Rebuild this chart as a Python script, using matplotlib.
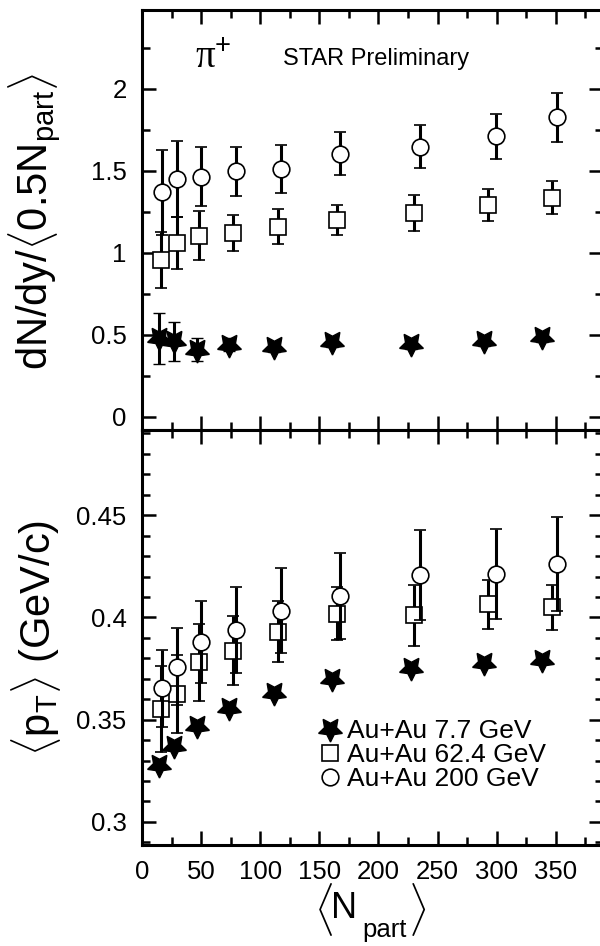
import numpy as np
import matplotlib
matplotlib.use("Agg")
import matplotlib.pyplot as plt
from matplotlib.ticker import FixedLocator, FixedFormatter, MultipleLocator

plt.rcParams['font.family'] = ['Liberation Sans', 'DejaVu Sans']
plt.rcParams['mathtext.fontset'] = 'custom'
plt.rcParams['mathtext.rm'] = 'Liberation Sans'
plt.rcParams['mathtext.it'] = 'Liberation Sans:italic'
plt.rcParams['mathtext.bf'] = 'Liberation Sans:bold'

# ---------------- data ----------------
labels = ['Au+Au 7.7 GeV', 'Au+Au 62.4 GeV', 'Au+Au 200 GeV']

npart_7 = [14.5, 27, 46.5, 73.6, 111.7, 161, 227.6, 289.6, 338.7]
npart_62 = [16, 29.3, 48.5, 76.7, 114.8, 164.7, 230.4, 293, 346.6]
npart_200 = [17.2, 29.5, 49.6, 79.5, 117.3, 167.5, 235, 299.5, 350.8]

dndy_7 = [0.48, 0.46, 0.41, 0.439, 0.425, 0.455, 0.445, 0.465, 0.484]
dndy_7_err = [0.155, 0.12, 0.07, 0.04, 0.03, 0.03, 0.03, 0.03, 0.03]
dndy_62 = [0.957, 1.059, 1.104, 1.12, 1.16, 1.20, 1.24, 1.293, 1.337]
dndy_62_err = [0.17, 0.16, 0.15, 0.11, 0.105, 0.09, 0.11, 0.097, 0.10]
dndy_200 = [1.368, 1.451, 1.465, 1.496, 1.512, 1.604, 1.648, 1.709, 1.827]
dndy_200_err = [0.26, 0.23, 0.18, 0.15, 0.145, 0.13, 0.134, 0.14, 0.15]

pt_7 = [0.328, 0.3369, 0.3467, 0.3557, 0.3632, 0.3698, 0.3751, 0.3778, 0.3793]
pt_7_err = [0, 0, 0, 0, 0, 0, 0, 0, 0]
pt_62 = [0.3552, 0.3626, 0.378, 0.3838, 0.3931, 0.4018, 0.401, 0.4064, 0.405]
pt_62_err = [0.021, 0.019, 0.019, 0.017, 0.015, 0.013, 0.015, 0.012, 0.011]
pt_200 = [0.3653, 0.376, 0.3879, 0.394, 0.4034, 0.4104, 0.4206, 0.4214, 0.4263]
pt_200_err = [0.019, 0.019, 0.02, 0.021, 0.021, 0.021, 0.022, 0.022, 0.023]

x_ticks = [0, 50, 100, 150, 200, 250, 300, 350]
y1_ticks = [0, 0.5, 1, 1.5, 2]
y1_ticklabels = ['0', '0.5', '1', '1.5', '2']
y2_ticks = [0.3, 0.35, 0.4, 0.45]
y2_ticklabels = ['0.3', '0.35', '0.4', '0.45']

# ---------------- figure ----------------
W, H = 600, 946
fig = plt.figure(figsize=(W / 100, H / 100), dpi=100)

def fx(px):
    return px / W

def fy(py):
    return 1 - py / H

L, R = 142, 603
ax1 = fig.add_axes([fx(L), fy(430), (R - L) / W, 420 / H])
ax2 = fig.add_axes([fx(L), fy(845), (R - L) / W, 415 / H])

star = (5, 1, 180)
styles = [
    dict(marker=star, ms=18, mfc='black', mec='black', mew=1.0, zorder=2),
    dict(marker='s', ms=12, mfc='white', mec='black', mew=1.2, zorder=3),
    dict(marker='o', ms=12, mfc='white', mec='black', mew=1.2, zorder=4),
]
eb_kw = dict(ls='none', ecolor='black', elinewidth=2.2, capsize=4, capthick=2.5)

top_series = [(npart_7, dndy_7, dndy_7_err), (npart_62, dndy_62, dndy_62_err),
              (npart_200, dndy_200, dndy_200_err)]
bot_series = [(npart_7, pt_7, pt_7_err), (npart_62, pt_62, pt_62_err),
              (npart_200, pt_200, pt_200_err)]

for (x, y, e), st in zip(top_series, styles):
    ax1.errorbar(x, y, yerr=e, **eb_kw, **st)

handles = []
for (x, y, e), st in zip(bot_series, styles):
    c = ax2.errorbar(x, y, yerr=e, **eb_kw, **st)
    handles.append(c[0])

ax1.set_xlim(0, 390)
ax2.set_xlim(0, 390)
ax1.set_ylim(-0.08, 2.48)
ax2.set_ylim(0.2887, 0.4917)

for ax in (ax1, ax2):
    for sp in ax.spines.values():
        sp.set_linewidth(2.2)
    ax.xaxis.set_major_locator(FixedLocator(x_ticks))
    ax.xaxis.set_minor_locator(MultipleLocator(25))
    ax.tick_params(which='both', direction='in', top=True, right=True,
                   width=1.8, labelsize=18.5)
    ax.tick_params(which='major', length=10)
    ax.tick_params(which='minor', length=5.5)
    ax.tick_params(axis='x', pad=11)
    ax.tick_params(axis='y', pad=11)

ax1.tick_params(axis='x', labelbottom=False)
ax1.yaxis.set_major_locator(FixedLocator(y1_ticks))
ax1.yaxis.set_major_formatter(FixedFormatter(y1_ticklabels))
ax1.yaxis.set_minor_locator(MultipleLocator(0.25))

ax2.yaxis.set_major_locator(FixedLocator(y2_ticks))
ax2.yaxis.set_major_formatter(FixedFormatter(y2_ticklabels))
ax2.yaxis.set_minor_locator(MultipleLocator(0.01))
ax2.xaxis.set_major_formatter(FixedFormatter([str(v) for v in x_ticks]))

# axis labels
fig.text(fx(48), fy(221), r'dN/dy/$\langle\mathregular{0.5N_{part}}\rangle$',
         rotation=90, rotation_mode='anchor', ha='center', va='baseline', fontsize=30)
fig.text(fx(51), fy(638), r'$\langle\mathregular{p_T}\rangle$ (GeV/c)',
         rotation=90, rotation_mode='anchor', ha='center', va='baseline', fontsize=30)

# x label composed as in the original: <N_part>
fig.text(fx(323), fy(909), r'$\langle$', ha='center', va='center', fontsize=31)
fig.text(fx(331), fy(918), 'N', ha='left', va='baseline', fontsize=26)
fig.text(fx(362), fy(937), 'part', ha='left', va='baseline', fontsize=18.5)
fig.text(fx(417), fy(909), r'$\rangle$', ha='center', va='center', fontsize=31)

# annotations
ax1.text(0.115, 0.862, 'π$^{+}$', transform=ax1.transAxes, fontsize=28,
         family='Liberation Serif', ha='left', va='baseline')
ax1.text(0.306, 0.869, 'STAR Preliminary', transform=ax1.transAxes, fontsize=17,
         ha='left', va='baseline')

ax2.legend(handles, labels, loc='center left', bbox_to_anchor=(0.38, 0.217),
           frameon=False, fontsize=19, handlelength=1.0, handletextpad=0.12,
           labelspacing=0.0, borderpad=0, borderaxespad=0, numpoints=1)

fig.savefig('out.png', dpi=100)
